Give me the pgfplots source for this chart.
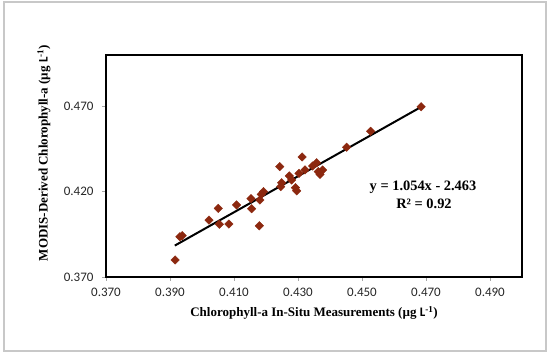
\documentclass[border=0pt]{standalone}
\usepackage{pgfplots}
\pgfplotsset{compat=1.18}
\usepackage{fontspec}
\setmainfont{Liberation Serif}
\newfontfamily\calibri{Carlito}
\definecolor{mk}{RGB}{140,40,15}
\definecolor{frame}{RGB}{200,200,200}
\begin{document}
\begin{tikzpicture}
\useasboundingbox (0,0) rectangle (550pt,354pt);
\draw[frame, line width=1.2pt] (4pt,3pt) rectangle (546pt,352pt);
\begin{axis}[
  at={(106pt,77pt)}, anchor=south west,
  scale only axis, width=416pt, height=222pt,
  xmin=0.37, xmax=0.50, ymin=0.37, ymax=0.50,
  xtick={0.37,0.39,0.41,0.43,0.45,0.47,0.49},
  xticklabels={{\calibri 0.370},{\calibri 0.390},{\calibri 0.410},{\calibri 0.430},{\calibri 0.450},{\calibri 0.470},{\calibri 0.490}},
  ytick={0.37,0.42,0.47},
  yticklabels={{\calibri 0.370},{\calibri 0.420},{\calibri 0.470}},
  axis line style={black, line width=1.6pt},
  tick style={gray!70, line width=0.6pt},
  tick align=outside, major tick length=4pt,
  xtick pos=bottom, ytick pos=left,
  tick label style={font=\calibri\fontsize{13}{15}\selectfont, text=black!85},
  xticklabel style={yshift=-4pt},
  yticklabel style={xshift=-5pt},
  clip=false,
]
\addplot[only marks, mark=square*, mark size=3pt, mark options={rotate=45, fill=mk, draw=mk}]
coordinates {
(0.3916,0.3800) (0.3931,0.3936) (0.3938,0.3942) (0.4022,0.4033)
(0.4051,0.4102) (0.4054,0.4009) (0.4084,0.4010) (0.4108,0.4122)
(0.4153,0.4159) (0.4155,0.4100) (0.4181,0.4151) (0.4179,0.4000)
(0.4185,0.4184) (0.4192,0.4200) (0.4243,0.4346) (0.4246,0.4229)
(0.4249,0.4252) (0.4273,0.4292) (0.4280,0.4268) (0.4292,0.4223)
(0.4296,0.4205) (0.4303,0.4307) (0.4313,0.4403) (0.4322,0.4327)
(0.4346,0.4350) (0.4358,0.4369) (0.4363,0.4317) (0.4369,0.4301)
(0.4377,0.4327) (0.4452,0.4460) (0.4527,0.4553) (0.4685,0.4697)
};
\addplot[black, line width=2pt] coordinates {(0.3915,0.3884) (0.4684,0.4695)};
\end{axis}
\node[font=\bfseries\fontsize{13}{15}\selectfont] at (314pt,41pt)
  {Chlorophyll-a In-Situ Measurements (µg {\calibri L}\textsuperscript{-1})};
\node[rotate=90, font=\bfseries\fontsize{13}{15}\selectfont] at (44pt,201pt)
  {MODIS-Derived Chlorophyll-a (µg {\calibri L}\textsuperscript{-1})};
\node[font=\bfseries\fontsize{14.4}{16}\selectfont] at (423pt,167pt) {y = 1.054x - 2.463};
\node[font=\bfseries\fontsize{14.4}{16}\selectfont] at (424pt,150pt) {R² = 0.92};
\end{tikzpicture}
\end{document}
